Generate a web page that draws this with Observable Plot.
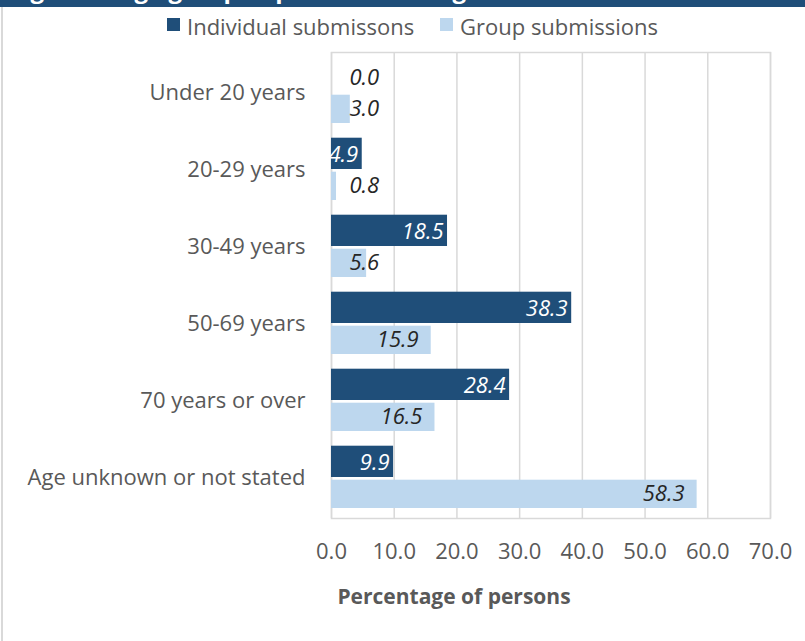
<!DOCTYPE html>
<html>
<head>
<meta charset="utf-8">
<script src="https://cdn.jsdelivr.net/npm/d3@7"></script>
<script src="https://cdn.jsdelivr.net/npm/@observablehq/plot@0.6"></script>
<style>
  html, body { margin: 0; padding: 0; background: #fff; }
  #page { position: relative; width: 805px; height: 641px; overflow: hidden; font-family: "Open Sans", sans-serif; }
  #band { position: relative; height: 7px; background: #1F4E79; overflow: hidden; }
  #band span { position: absolute; left: 10px; top: -25px; font: bold 24px/28px "Open Sans", sans-serif; color: #fff; white-space: nowrap; }
  #edge { position: absolute; left: 1px; top: 7px; bottom: 0; width: 2px; background: #D9D9D9; }
  #legend { position: relative; height: 40px; font-size: 22px; color: #595959; }
  .sw { position: absolute; top: 11px; width: 13px; height: 13px; }
  .lt { position: absolute; top: 4px; line-height: 30px; white-space: nowrap; }
  svg { display: block; }
</style>
</head>
<body>
<div id="page">
  <div id="band"><span>Figure 3: Age group of persons making submissions</span></div>
  <div id="edge"></div>
  <div id="legend"></div>
  <div id="chart"></div>
</div>
<script>
const categories = ["Under 20 years", "20-29 years", "30-49 years", "50-69 years", "70 years or over", "Age unknown or not stated"];
const individualValues = [0.0, 4.9, 18.5, 38.3, 28.4, 9.9];
const groupValues = [3.0, 0.8, 5.6, 15.9, 16.5, 58.3];
const seriesNames = ["Individual submissons", "Group submissions"];
const seriesColors = ["#1F4E79", "#BDD7EE"];
const xTicks = [0, 10, 20, 30, 40, 50, 60, 70];
const axisTitle = "Percentage of persons";

// legend
const legend = document.getElementById("legend");
const legendPos = [[167, 187], [440, 460]];
seriesNames.forEach((name, i) => {
  const sw = document.createElement("div");
  sw.className = "sw";
  sw.style.left = legendPos[i][0] + "px";
  sw.style.background = seriesColors[i];
  legend.appendChild(sw);
  const t = document.createElement("div");
  t.className = "lt";
  t.style.left = legendPos[i][1] + "px";
  t.textContent = name;
  legend.appendChild(t);
});

const indData = categories.map((c, i) => ({category: c, value: individualValues[i], labelX: individualValues[i] < 2 ? 7.6 : individualValues[i]}));
const grpData = categories.map((c, i) => ({category: c, value: groupValues[i], labelX: Math.max(groupValues[i] - 2.0, 7.6)}));

const chart = Plot.plot({
  width: 805,
  height: 594,
  marginTop: 5,
  marginBottom: 123,
  marginLeft: 331,
  marginRight: 35,
  style: {fontFamily: "Open Sans", fontSize: "22px", color: "#595959", background: "transparent", overflow: "visible"},
  x: {domain: [0, 70]},
  y: {domain: categories, padding: 0},
  marks: [
    Plot.gridX(xTicks, {stroke: "#D9D9D9", strokeOpacity: 1, strokeWidth: 1.5}),
    Plot.frame({stroke: "#D9D9D9", strokeWidth: 1.5}),
    Plot.barX(indData, {x: "value", y: "category", fill: seriesColors[0], insetTop: 6.7, insetBottom: 39}),
    Plot.barX(grpData, {x: "value", y: "category", fill: seriesColors[1], insetTop: 40.7, insetBottom: 8}),
    Plot.text(indData.filter(d => d.value >= 2), {x: "labelX", y: "category", text: d => d.value.toFixed(1), fill: "#ffffff", textAnchor: "end", dx: -4, dy: -15.5, fontStyle: "italic", fontSize: 22}),
    Plot.text(indData.filter(d => d.value < 2), {x: "labelX", y: "category", text: d => d.value.toFixed(1), fill: "#262626", textAnchor: "end", dy: -15.5, fontStyle: "italic", fontSize: 22}),
    Plot.text(grpData, {x: "labelX", y: "category", text: d => d.value.toFixed(1), fill: "#262626", textAnchor: "end", dy: 16, fontStyle: "italic", fontSize: 22}),
    Plot.axisX({ticks: xTicks, tickSize: 0, tickPadding: 25, tickFormat: d => d.toFixed(1), label: null, fill: "#595959", fontSize: 22}),
    Plot.axisY({tickSize: 0, tickPadding: 26, label: null, fill: "#595959", fontSize: 22}),
    Plot.text([axisTitle], {frameAnchor: "bottom", dx: -97, dy: 85, fontWeight: "bold", fontSize: 21, fill: "#595959"})
  ]
});
document.getElementById("chart").appendChild(chart);
</script>
</body>
</html>
